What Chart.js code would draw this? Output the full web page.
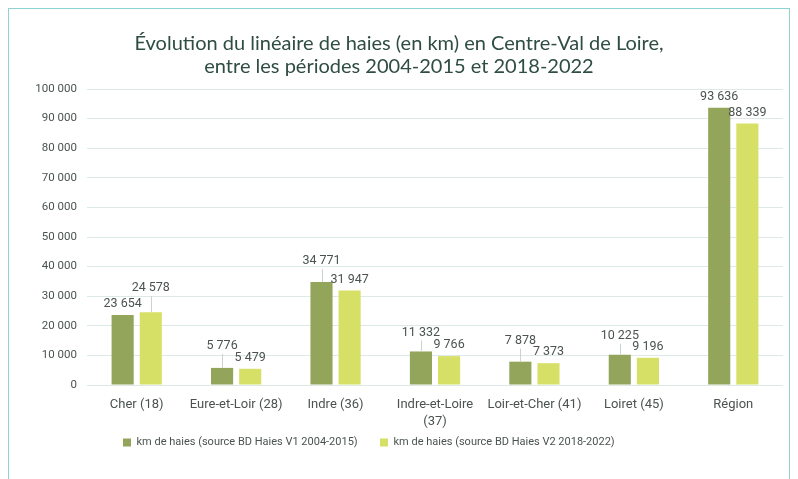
<!DOCTYPE html>
<html>
<head>
<meta charset="utf-8">
<script src="https://cdn.jsdelivr.net/npm/chart.js@4"></script>
<style>
  html, body { margin: 0; padding: 0; background: #ffffff; }
  #wrap { position: relative; width: 798px; height: 479px; }
  #frame { position: absolute; left: 8px; top: 8px; width: 782px; height: 480px;
           border: 1px solid #8fd2d2; border-bottom: none; box-sizing: border-box; }
  canvas { position: absolute; left: 0; top: 0; }
</style>
</head>
<body>
<div id="wrap">
  <div id="frame"></div>
  <canvas id="c" width="798" height="479"></canvas>
</div>
<script>
const categories = ['Cher (18)', 'Eure-et-Loir (28)', 'Indre (36)', 'Indre-et-Loire (37)', 'Loir-et-Cher (41)', 'Loiret (45)', 'Région'];
const seriesNames = ['km de haies (source BD Haies V1 2004-2015)', 'km de haies (source BD Haies V2 2018-2022)'];
const haiesV1 = [23654, 5776, 34771, 11332, 7878, 10225, 93636];
const haiesV2 = [24578, 5479, 31947, 9766, 7373, 9196, 88339];
const titleLines = ['Évolution du linéaire de haies (en km) en Centre-Val de Loire,', 'entre les périodes 2004-2015 et 2018-2022'];

// style: label distance above bar top (px) per point
const labelLift = [[11, 22, 21, 19, 21, 19, 11], [24, 11, 11, 11, 11, 11, 11]];

const fmt = v => String(v).replace(/\B(?=(\d{3})+(?!\d))/g, ' ');
const TXT = '#4a534f';
const BODY_FONT = 'Roboto';
const LEGEND_FONT = 'Roboto';
const LEGEND_SIZE = 11;
const LEGEND_X = 123, LEGEND_X2 = 380, LEGEND_BOX = 8;

// gap between legend items so the second item starts where it does in the reference
const mctx = document.createElement('canvas').getContext('2d');
mctx.font = LEGEND_SIZE + 'px ' + LEGEND_FONT;
const legendGap = Math.max(10, LEGEND_X2 - LEGEND_X - LEGEND_BOX - LEGEND_SIZE / 2 - mctx.measureText(seriesNames[0]).width);

const dataLabels = {
  id: 'dataLabels',
  afterDatasetsDraw(chart) {
    const ctx = chart.ctx;
    ctx.save();
    ctx.font = '12.5px ' + BODY_FONT;
    ctx.fillStyle = TXT;
    ctx.textAlign = 'center';
    ctx.textBaseline = 'middle';
    chart.data.datasets.forEach((ds, di) => {
      const meta = chart.getDatasetMeta(di);
      meta.data.forEach((el, i) => {
        const lift = labelLift[di][i];
        const y = el.y - lift;
        if (lift > 15) {
          ctx.save();
          ctx.strokeStyle = '#c9d3cf';
          ctx.lineWidth = 1;
          ctx.beginPath();
          ctx.moveTo(Math.round(el.x) + 0.5, y + 8);
          ctx.lineTo(Math.round(el.x) + 0.5, el.y);
          ctx.stroke();
          ctx.restore();
        }
        ctx.fillText(fmt(ds.data[i]), el.x, y);
      });
    });
    ctx.restore();
  }
};

const legendPlace = {
  id: 'legendPlace',
  afterLayout(chart) {
    const lg = chart.legend;
    const pad = lg.options.labels.padding;
    const w = lg.width;
    lg.left = LEGEND_X - pad;
    lg.right = lg.left + w;
    const h = lg.height;
    lg.top = 441 - pad - 4;
    lg.bottom = lg.top + h;
  }
};

const PAD_BOTTOM = -30;

new Chart(document.getElementById('c'), {
  type: 'bar',
  data: {
    labels: categories,
    datasets: [
      { label: seriesNames[0], data: haiesV1, backgroundColor: '#93a55a' },
      { label: seriesNames[1], data: haiesV2, backgroundColor: '#d7e066' }
    ]
  },
  options: {
    responsive: false,
    animation: false,
    devicePixelRatio: 1,
    layout: { padding: { left: 15, right: 15, top: 0, bottom: PAD_BOTTOM } },
    datasets: { bar: { categoryPercentage: 0.566, barPercentage: 0.786 } },
    plugins: {
      title: {
        display: true,
        text: titleLines,
        color: '#2f4d42',
        font: { family: 'Lato', size: 20, weight: 'normal', lineHeight: 1.15 },
        padding: { top: 32, bottom: 11 }
      },
      legend: {
        position: 'bottom',
        align: 'start',
        labels: {
          color: TXT,
          font: { family: LEGEND_FONT, size: LEGEND_SIZE },
          boxWidth: LEGEND_BOX, boxHeight: LEGEND_BOX,
          padding: legendGap
        }
      },
      tooltip: { enabled: false }
    },
    scales: {
      x: {
        grid: { display: false, drawTicks: false },
        border: { display: false },
        ticks: {
          color: TXT,
          font: { family: BODY_FONT, size: 13, lineHeight: 1.25 },
          padding: 12,
          maxRotation: 0,
          autoSkip: false,
          callback(v, i) {
            const s = categories[i];
            if (s.length > 18) { const k = s.lastIndexOf(' ('); return [s.slice(0, k), s.slice(k + 1)]; }
            return s;
          }
        },
        afterFit(s) { s.height = 479 - 385 - PAD_BOTTOM - (s.chart.legend ? s.chart.legend.height : 0); }
      },
      y: {
        min: 0, max: 100000,
        grid: { color: '#dde9e6', drawTicks: false },
        border: { display: false },
        ticks: {
          stepSize: 10000,
          color: TXT,
          font: { family: BODY_FONT, size: 11.5 },
          padding: 10,
          callback: v => fmt(v)
        },
        afterFit(s) { s.width = 72; }
      }
    }
  },
  plugins: [dataLabels, legendPlace]
});
</script>
</body>
</html>
